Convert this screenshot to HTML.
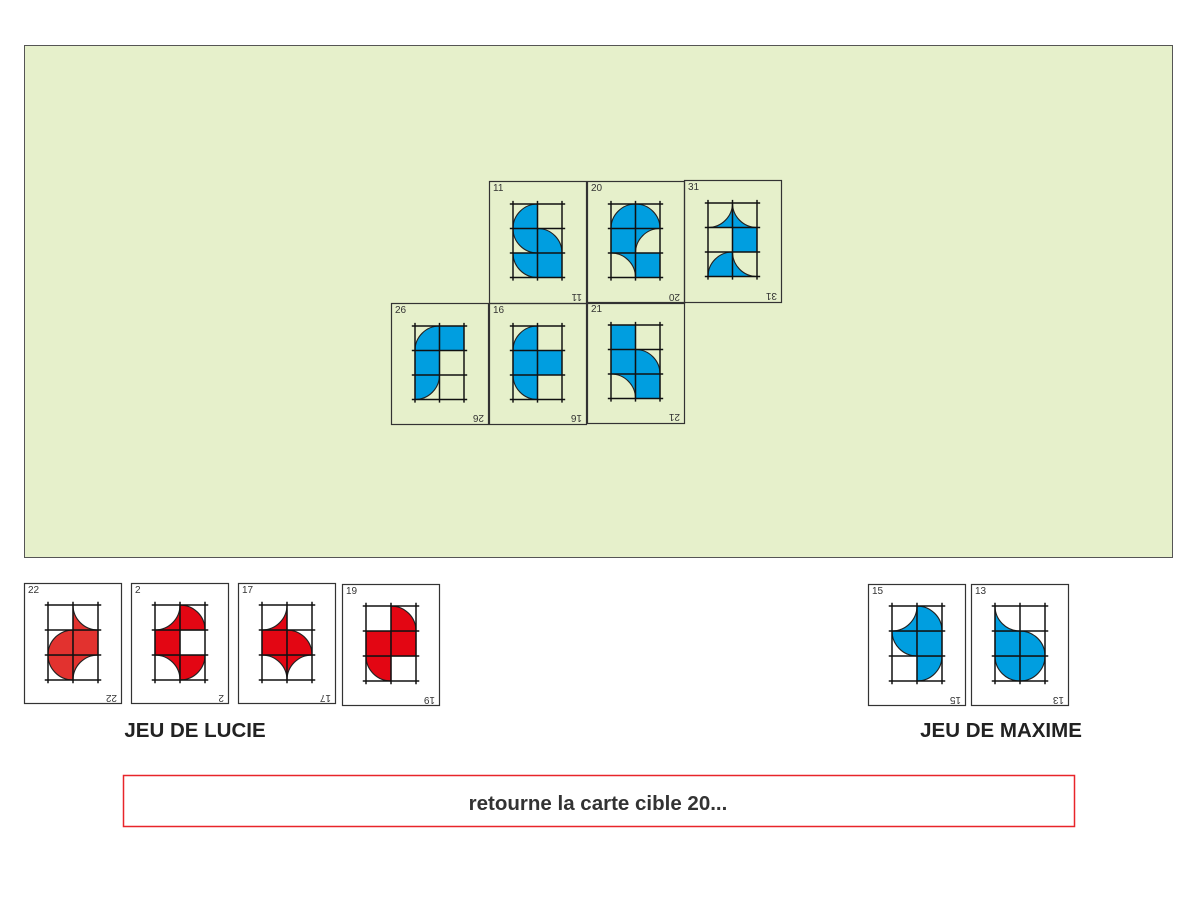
<!DOCTYPE html>
<html><head><meta charset="utf-8"><style>
html,body{margin:0;padding:0;background:#fff;width:1200px;height:900px;overflow:hidden}
svg{display:block}
.n{font-family:"Liberation Sans",sans-serif;font-size:10px;fill:#333}
.lbl{font-family:"Liberation Sans",sans-serif;font-size:20.5px;font-weight:bold;fill:#222}
.b path{fill:#009ee0;stroke:#222;stroke-width:0.045}
.r path{fill:#e30613;stroke:#222;stroke-width:0.045}
.r2 path{fill:#e2322f;stroke:#222;stroke-width:0.045}
</style></head><body>
<svg width="1200" height="900" viewBox="0 0 1200 900">
<defs>
<g id="grid" stroke="#111" stroke-width="0.06" fill="none">
<path d="M0 -0.13V3.13M1 -0.13V3.13M2 -0.13V3.13M-0.13 0H2.13M-0.13 1H2.13M-0.13 2H2.13M-0.13 3H2.13"/>
</g>
</defs>
<rect x="24.5" y="45.5" width="1148" height="512" fill="#e6f0cb" stroke="#555" stroke-width="1"/>

<g transform="translate(489,181)">
<rect x="0.5" y="0.5" width="97" height="122" fill="none" stroke="#333" stroke-width="1.2"/>
<text class="n" x="4" y="10">11</text><text class="n" transform="translate(93,113) rotate(180)">11</text>
<g transform="translate(24,23) scale(24.5)"><g class="b">
<path d="M1 1H0A1 1 0 0 1 1 0Z"/><path d="M1 1H0A1 1 0 0 0 1 2Z"/><path d="M1 2H2A1 1 0 0 0 1 1Z"/><path d="M1 2H0A1 1 0 0 0 1 3Z"/><path d="M1 2h1v1h-1Z"/>
</g><use href="#grid"/></g></g>

<g transform="translate(587,181)">
<rect x="0.5" y="0.5" width="97" height="122" fill="none" stroke="#333" stroke-width="1.2"/>
<text class="n" x="4" y="10">20</text><text class="n" transform="translate(93,113) rotate(180)">20</text>
<g transform="translate(24,23) scale(24.5)"><g class="b">
<path d="M1 1H0A1 1 0 0 1 1 0Z"/><path d="M1 1H2A1 1 0 0 0 1 0Z"/><path d="M0 1h1v1h-1Z"/><path d="M1 2V1H2A1 1 0 0 0 1 2Z"/><path d="M1 3V2H0A1 1 0 0 1 1 3Z"/><path d="M1 2h1v1h-1Z"/>
</g><use href="#grid"/></g></g>

<g transform="translate(684,180)">
<rect x="0.5" y="0.5" width="97" height="122" fill="none" stroke="#333" stroke-width="1.2"/>
<text class="n" x="4" y="10">31</text><text class="n" transform="translate(93,113) rotate(180)">31</text>
<g transform="translate(24,23) scale(24.5)"><g class="b">
<path d="M1 0V1H0A1 1 0 0 0 1 0Z"/><path d="M1 0V1H2A1 1 0 0 1 1 0Z"/><path d="M1 1h1v1h-1Z"/><path d="M1 3H0A1 1 0 0 1 1 2Z"/><path d="M1 2V3H2A1 1 0 0 1 1 2Z"/>
</g><use href="#grid"/></g></g>

<g transform="translate(391,303)">
<rect x="0.5" y="0.5" width="97" height="121" fill="none" stroke="#333" stroke-width="1.2"/>
<text class="n" x="4" y="10">26</text><text class="n" transform="translate(93,112) rotate(180)">26</text>
<g transform="translate(24,23) scale(24.5)"><g class="b">
<path d="M1 1H0A1 1 0 0 1 1 0Z"/><path d="M1 0h1v1h-1Z"/><path d="M0 1h1v1h-1Z"/><path d="M0 2H1A1 1 0 0 1 0 3Z"/>
</g><use href="#grid"/></g></g>

<g transform="translate(489,303)">
<rect x="0.5" y="0.5" width="97" height="121" fill="none" stroke="#333" stroke-width="1.2"/>
<text class="n" x="4" y="10">16</text><text class="n" transform="translate(93,112) rotate(180)">16</text>
<g transform="translate(24,23) scale(24.5)"><g class="b">
<path d="M1 1H0A1 1 0 0 1 1 0Z"/><path d="M0 1h1v1h-1Z"/><path d="M1 1h1v1h-1Z"/><path d="M1 2H0A1 1 0 0 0 1 3Z"/>
</g><use href="#grid"/></g></g>

<g transform="translate(587,302)">
<rect x="0.5" y="0.5" width="97" height="121" fill="none" stroke="#333" stroke-width="1.2"/>
<text class="n" x="4" y="10">21</text><text class="n" transform="translate(93,112) rotate(180)">21</text>
<g transform="translate(24,23) scale(24.5)"><g class="b">
<path d="M0 0h1v1h-1Z"/><path d="M0 1h1v1h-1Z"/><path d="M1 2H2A1 1 0 0 0 1 1Z"/><path d="M1 3V2H0A1 1 0 0 1 1 3Z"/><path d="M1 2h1v1h-1Z"/>
</g><use href="#grid"/></g></g>

<g transform="translate(24,583)">
<rect x="0.5" y="0.5" width="97" height="120" fill="#fff" stroke="#333" stroke-width="1.2"/>
<text class="n" x="4" y="10">22</text><text class="n" transform="translate(93,112) rotate(180)">22</text>
<g transform="translate(24,22) scale(25)"><g class="r2">
<path d="M1 0V1H2A1 1 0 0 1 1 0Z"/><path d="M1 2H0A1 1 0 0 1 1 1Z"/><path d="M1 1h1v1h-1Z"/><path d="M1 2H0A1 1 0 0 0 1 3Z"/><path d="M1 3V2H2A1 1 0 0 0 1 3Z"/>
</g><use href="#grid"/></g></g>

<g transform="translate(131,583)">
<rect x="0.5" y="0.5" width="97" height="120" fill="#fff" stroke="#333" stroke-width="1.2"/>
<text class="n" x="4" y="10">2</text><text class="n" transform="translate(93,112) rotate(180)">2</text>
<g transform="translate(24,22) scale(25)"><g class="r">
<path d="M1 0V1H0A1 1 0 0 0 1 0Z"/><path d="M1 1H2A1 1 0 0 0 1 0Z"/><path d="M0 1h1v1h-1Z"/><path d="M1 3V2H0A1 1 0 0 1 1 3Z"/><path d="M1 2H2A1 1 0 0 1 1 3Z"/>
</g><use href="#grid"/></g></g>

<g transform="translate(238,583)">
<rect x="0.5" y="0.5" width="97" height="120" fill="#fff" stroke="#333" stroke-width="1.2"/>
<text class="n" x="4" y="10">17</text><text class="n" transform="translate(93,112) rotate(180)">17</text>
<g transform="translate(24,22) scale(25)"><g class="r">
<path d="M1 0V1H0A1 1 0 0 0 1 0Z"/><path d="M0 1h1v1h-1Z"/><path d="M1 2H2A1 1 0 0 0 1 1Z"/><path d="M1 3V2H0A1 1 0 0 1 1 3Z"/><path d="M1 3V2H2A1 1 0 0 0 1 3Z"/>
</g><use href="#grid"/></g></g>

<g transform="translate(342,584)">
<rect x="0.5" y="0.5" width="97" height="121" fill="#fff" stroke="#333" stroke-width="1.2"/>
<text class="n" x="4" y="10">19</text><text class="n" transform="translate(93,113) rotate(180)">19</text>
<g transform="translate(24,22) scale(25)"><g class="r">
<path d="M1 1H2A1 1 0 0 0 1 0Z"/><path d="M0 1h1v1h-1Z"/><path d="M1 1h1v1h-1Z"/><path d="M1 2H0A1 1 0 0 0 1 3Z"/>
</g><use href="#grid"/></g></g>

<g transform="translate(868,584)">
<rect x="0.5" y="0.5" width="97" height="121" fill="#fff" stroke="#333" stroke-width="1.2"/>
<text class="n" x="4" y="10">15</text><text class="n" transform="translate(93,113) rotate(180)">15</text>
<g transform="translate(24,22) scale(25)"><g class="b">
<path d="M1 0V1H0A1 1 0 0 0 1 0Z"/><path d="M1 1H2A1 1 0 0 0 1 0Z"/><path d="M1 1H0A1 1 0 0 0 1 2Z"/><path d="M1 1h1v1h-1Z"/><path d="M1 2H2A1 1 0 0 1 1 3Z"/>
</g><use href="#grid"/></g></g>

<g transform="translate(971,584)">
<rect x="0.5" y="0.5" width="97" height="121" fill="#fff" stroke="#333" stroke-width="1.2"/>
<text class="n" x="4" y="10">13</text><text class="n" transform="translate(93,113) rotate(180)">13</text>
<g transform="translate(24,22) scale(25)"><g class="b">
<path d="M0 0V1H1A1 1 0 0 1 0 0Z"/><path d="M0 1h1v1h-1Z"/><path d="M1 2H2A1 1 0 0 0 1 1Z"/><path d="M1 2H0A1 1 0 0 0 1 3Z"/><path d="M1 2H2A1 1 0 0 1 1 3Z"/>
</g><use href="#grid"/></g></g>

<text class="lbl" x="195" y="737" text-anchor="middle">JEU DE LUCIE</text>
<text class="lbl" x="1001" y="737" text-anchor="middle">JEU DE MAXIME</text>

<rect x="123.5" y="775.5" width="951" height="51" fill="#fff" stroke="#e8252a" stroke-width="1.5"/>
<text x="598" y="810" text-anchor="middle" style="font-family:'Liberation Sans',sans-serif;font-size:20.5px;font-weight:bold;fill:#333">retourne la carte cible 20...</text>
</svg>
</body></html>
